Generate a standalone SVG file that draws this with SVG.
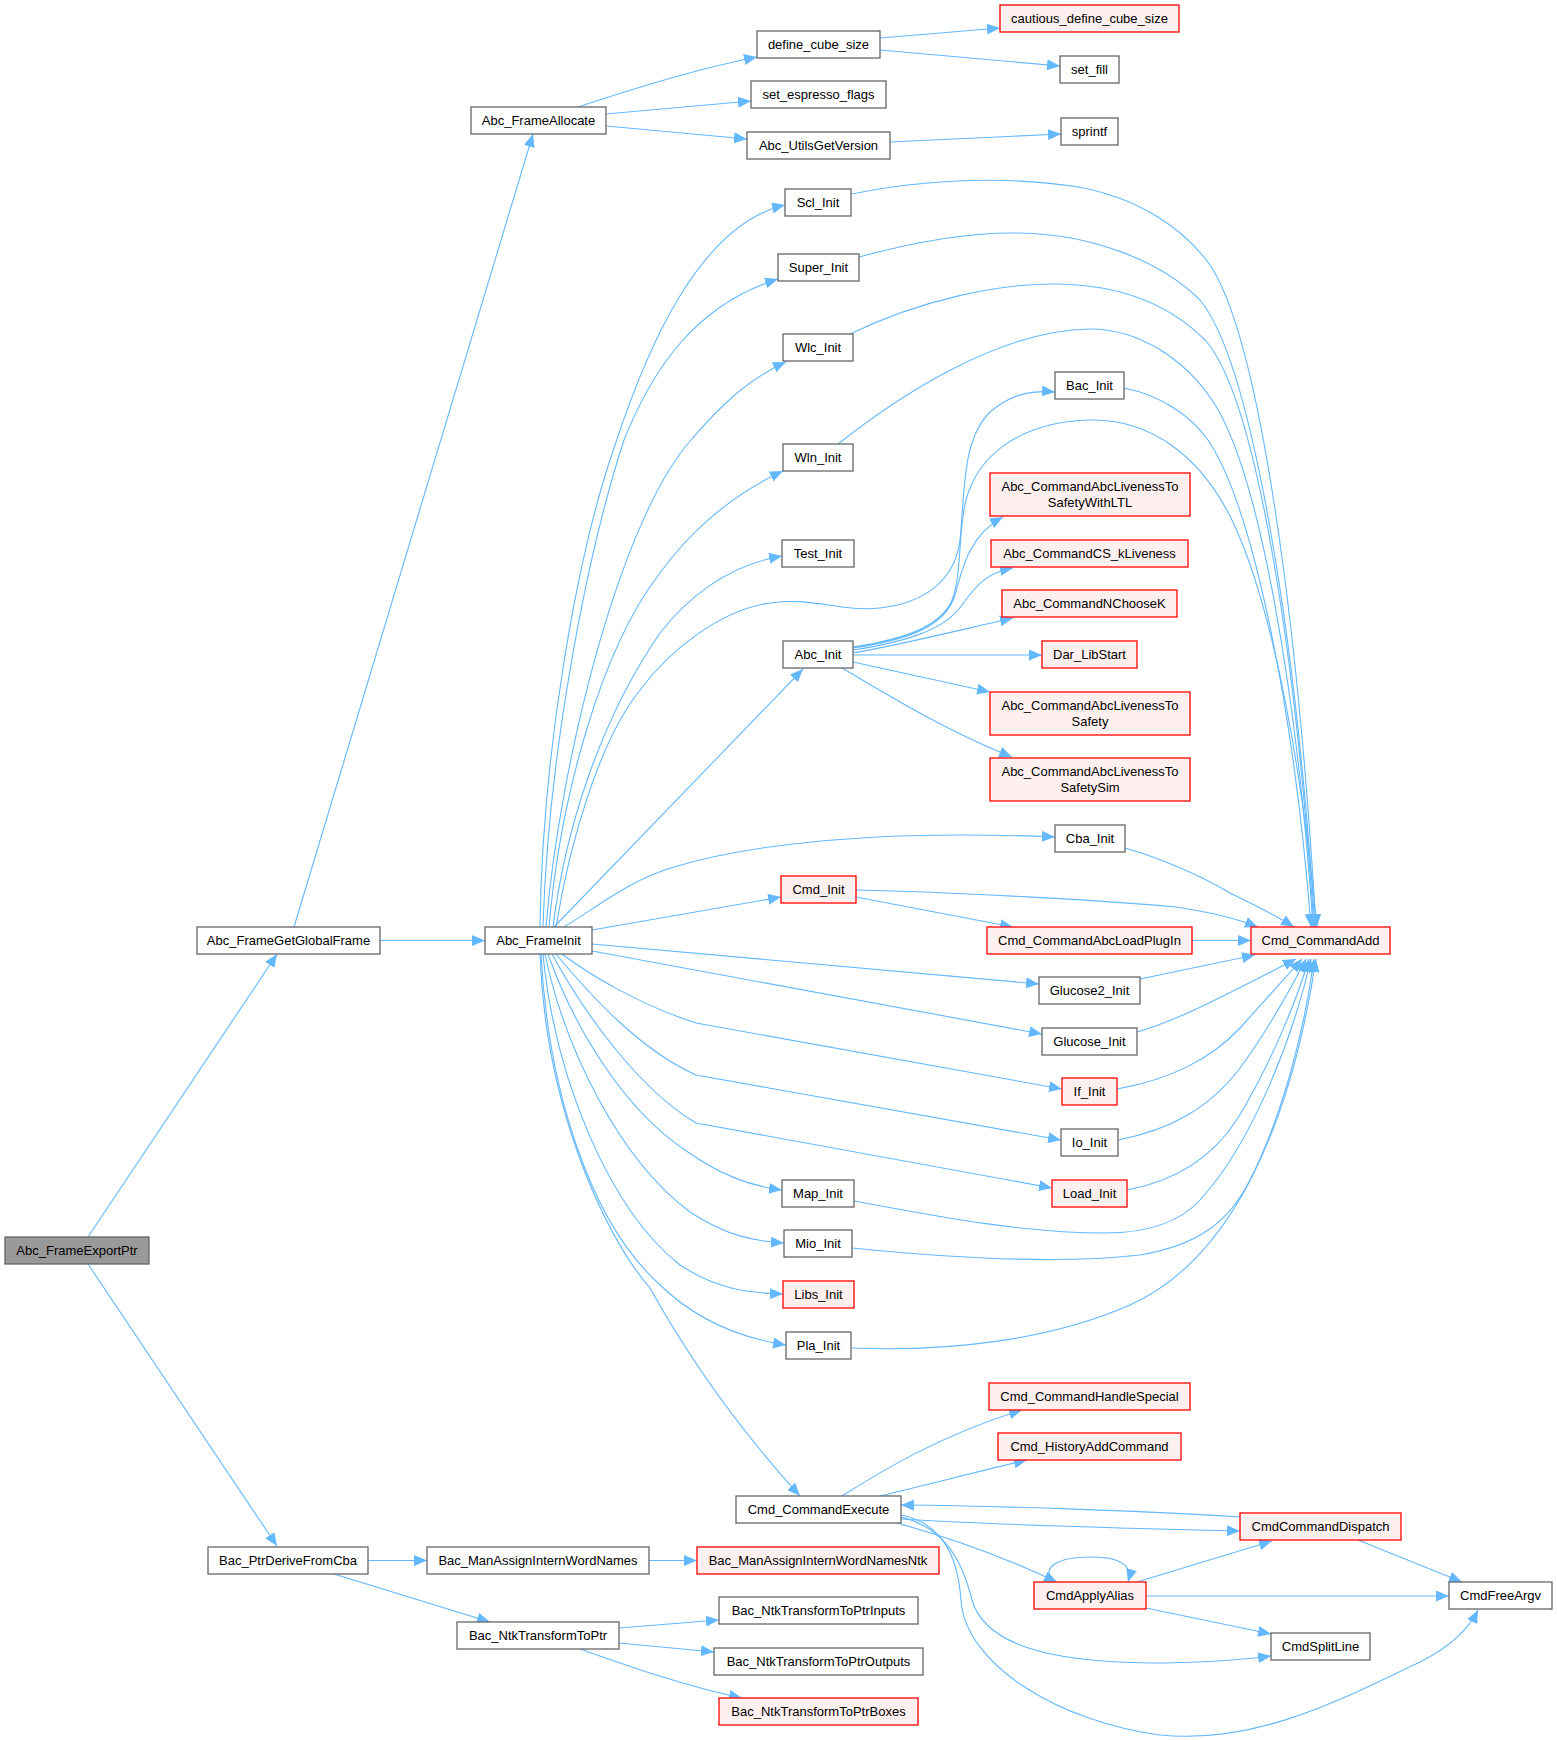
<svg xmlns="http://www.w3.org/2000/svg" width="1557" height="1740" viewBox="0 0 1557 1740">
<style>
text{font-family:"Liberation Sans",Arial,Helvetica,sans-serif;font-size:13px;text-anchor:middle;fill:#000}
.n rect{fill:#fff;stroke:#666;stroke-width:1.3}
.r rect{fill:#fff0f0;stroke:#ff0000;stroke-width:1.3}
.root rect{fill:#999;stroke:#666;stroke-width:1.3}
#edges path{fill:none;stroke:#63b8ff;stroke-width:1.1;marker-end:url(#a)}
</style>
<defs>
<marker id="a" markerWidth="13" markerHeight="11" refX="13" refY="5.5" orient="auto" markerUnits="userSpaceOnUse"><path d="M0,0 L13,5.5 L0,11 z" fill="#63b8ff"/></marker>
</defs>
<rect width="1557" height="1740" fill="#fff"/>
<g id="edges">
<path d="M88,1237 L277,954"/>
<path d="M88,1264 L277,1546"/>
<path d="M294,927 L533,134"/>
<path d="M380,940.5 L485,940.5"/>
<path d="M578,107 C620,93 690,70 757,57"/>
<path d="M606,114 L751,101"/>
<path d="M606,126 L747,139"/>
<path d="M880,38 L1000,28"/>
<path d="M880,50 L1060,66"/>
<path d="M890,142 L1061,134"/>
<path d="M540,927 C542,760 575,560 615,445 C648,345 700,225 785,205"/>
<path d="M543,927 C548,760 585,560 624,440 C652,370 695,305 778,279"/>
<path d="M546,927 C560,760 620,520 691,440 C715,412 745,380 786,362"/>
<path d="M549,927 C560,800 600,650 660,573 C680,545 720,500 783,471"/>
<path d="M553,927 C565,830 600,720 660,633 C690,595 730,565 782,556"/>
<path d="M556,927 C570,840 600,740 640,690 C670,650 720,610 770,603 C815,597 840,612 880,608 C925,603 955,580 960,540 C965,490 962,440 990,412 C1010,395 1030,390 1055,392"/>
<path d="M554,927 L803,669"/>
<path d="M564,927 C600,905 630,880 674,867 C730,850 800,840 900,836 C960,834 1010,835 1055,837"/>
<path d="M592,930 L781,897"/>
<path d="M592,944 L1039,984"/>
<path d="M592,951 L1042,1034"/>
<path d="M562,954 C590,975 640,1005 696,1023 L1062,1089"/>
<path d="M556,954 C590,995 640,1050 696,1075 L1061,1140"/>
<path d="M552,954 C585,1015 640,1090 696,1123 L1052,1188"/>
<path d="M548,954 C575,1030 625,1110 685,1150 C720,1175 750,1186 782,1190"/>
<path d="M545,954 C565,1050 620,1160 690,1212 C725,1235 752,1241 784,1243"/>
<path d="M543,954 C555,1080 610,1210 680,1265 C715,1288 745,1293 783,1294"/>
<path d="M541,954 C548,1090 590,1220 657,1282 C680,1305 720,1335 786,1345"/>
<path d="M540,954 C545,1100 600,1230 650,1288 C690,1360 740,1430 800,1496"/>
<path d="M852,194 C920,180 1000,175 1078,187 C1140,198 1185,230 1210,265 C1260,340 1298,620 1316,927"/>
<path d="M859,257 C910,243 970,232 1019,233 C1090,234 1160,260 1200,300 C1250,360 1295,620 1315,927"/>
<path d="M850,334 C920,300 1000,283 1058,284 C1120,285 1170,305 1205,340 C1255,395 1295,640 1314,927"/>
<path d="M838,444 C900,395 1000,330 1090,329 C1140,329 1185,360 1212,400 C1260,470 1298,700 1313,927"/>
<path d="M1124,388 C1160,395 1190,415 1208,440 C1255,510 1295,720 1311,927"/>
<path d="M853,647 C900,640 940,628 952,600 C962,575 958,530 966,500 C978,455 1020,422 1090,420 C1150,419 1200,455 1232,520 C1275,610 1303,780 1317,927"/>
<path d="M853,648 C905,640 945,628 955,595 C963,565 970,535 1003,517"/>
<path d="M853,650 C905,642 945,630 962,605 C978,582 990,572 1013,568"/>
<path d="M853,653 C900,645 960,630 1013,618"/>
<path d="M853,655 L1042,655"/>
<path d="M853,662 L990,692"/>
<path d="M842,668 C880,690 940,728 1012,757"/>
<path d="M1125,848 C1160,858 1200,875 1230,893 C1255,905 1275,915 1294,927"/>
<path d="M856,890 C950,892 1100,900 1176,907 C1210,912 1235,918 1258,927"/>
<path d="M856,897 L1013,927"/>
<path d="M1192,940.5 L1251,940.5"/>
<path d="M1140,979 L1255,955"/>
<path d="M1137,1032 C1180,1020 1235,990 1296,959"/>
<path d="M1117,1089 C1170,1080 1212,1058 1240,1028 C1265,1000 1285,978 1302,959"/>
<path d="M1118,1140 C1170,1130 1210,1108 1240,1068 C1268,1030 1290,990 1306,959"/>
<path d="M1127,1190 C1170,1182 1210,1162 1238,1118 C1270,1065 1295,1005 1309,959"/>
<path d="M854,1201 C930,1215 1020,1233 1105,1233 C1150,1233 1180,1222 1200,1200 C1255,1140 1295,1030 1311,959"/>
<path d="M852,1248 C950,1258 1060,1264 1140,1255 C1200,1245 1230,1220 1250,1180 C1280,1120 1303,1040 1314,959"/>
<path d="M851,1348 C950,1352 1050,1340 1130,1305 C1230,1260 1290,1130 1316,959"/>
<path d="M842,1496 C880,1472 940,1435 1022,1410"/>
<path d="M880,1496 C930,1484 980,1471 1027,1460"/>
<path d="M1240,1517 C1150,1511 1000,1506 901,1505"/>
<path d="M901,1519 C1000,1525 1150,1529 1240,1531"/>
<path d="M897,1523 C940,1535 1000,1555 1057,1582"/>
<path d="M901,1517 C945,1528 962,1560 972,1600 C985,1645 1050,1662 1150,1663 C1200,1663 1240,1660 1271,1656"/>
<path d="M901,1515 C945,1524 958,1560 961,1600 C965,1665 1060,1722 1160,1735 C1260,1745 1350,1695 1420,1662 C1448,1648 1468,1630 1478,1610"/>
<path d="M1137,1582 L1272,1541"/>
<path d="M1146,1596 L1449,1596"/>
<path d="M1146,1608 L1271,1634"/>
<path d="M1358,1540 L1462,1582"/>
<path d="M1053,1582 C1040,1566 1060,1557 1091,1557 C1120,1557 1133,1565 1128,1582"/>
<path d="M368,1560.5 L427,1560.5"/>
<path d="M334,1574 L490,1622"/>
<path d="M649,1560.5 L697,1560.5"/>
<path d="M619,1628 L719,1620"/>
<path d="M619,1643 L714,1652"/>
<path d="M580,1649 C620,1663 680,1685 742,1698"/>
</g>
<g id="n1" class="root"><rect x="5" y="1237" width="144" height="27"/><text x="77" y="1255">Abc_FrameExportPtr</text></g>
<g id="n2" class="n"><rect x="197" y="927" width="183" height="27"/><text x="288.5" y="945">Abc_FrameGetGlobalFrame</text></g>
<g id="n3" class="n"><rect x="208" y="1547" width="160" height="27"/><text x="288" y="1565">Bac_PtrDeriveFromCba</text></g>
<g id="n4" class="n"><rect x="471" y="107" width="135" height="27"/><text x="538.5" y="125">Abc_FrameAllocate</text></g>
<g id="n5" class="n"><rect x="485" y="927" width="107" height="27"/><text x="538.5" y="945">Abc_FrameInit</text></g>
<g id="n6" class="n"><rect x="427" y="1547" width="222" height="27"/><text x="538" y="1565">Bac_ManAssignInternWordNames</text></g>
<g id="n7" class="n"><rect x="457" y="1622" width="162" height="27"/><text x="538" y="1640">Bac_NtkTransformToPtr</text></g>
<g id="n8" class="n"><rect x="757" y="31" width="123" height="27"/><text x="818.5" y="49">define_cube_size</text></g>
<g id="n9" class="n"><rect x="751" y="81" width="135" height="27"/><text x="818.5" y="99">set_espresso_flags</text></g>
<g id="n10" class="n"><rect x="747" y="132" width="143" height="27"/><text x="818.5" y="150">Abc_UtilsGetVersion</text></g>
<g id="n11" class="n"><rect x="785" y="189" width="66" height="27"/><text x="818" y="207">Scl_Init</text></g>
<g id="n12" class="n"><rect x="778" y="254" width="81" height="27"/><text x="818.5" y="272">Super_Init</text></g>
<g id="n13" class="n"><rect x="783" y="334" width="70" height="27"/><text x="818" y="352">Wlc_Init</text></g>
<g id="n14" class="n"><rect x="783" y="444" width="70" height="27"/><text x="818" y="462">Wln_Init</text></g>
<g id="n15" class="n"><rect x="782" y="540" width="72" height="27"/><text x="818" y="558">Test_Init</text></g>
<g id="n16" class="n"><rect x="783" y="641" width="70" height="27"/><text x="818" y="659">Abc_Init</text></g>
<g id="n17" class="r"><rect x="781" y="876" width="75" height="27"/><text x="818.5" y="894">Cmd_Init</text></g>
<g id="n18" class="n"><rect x="782" y="1180" width="72" height="27"/><text x="818" y="1198">Map_Init</text></g>
<g id="n19" class="n"><rect x="784" y="1230" width="68" height="27"/><text x="818" y="1248">Mio_Init</text></g>
<g id="n20" class="r"><rect x="783" y="1281" width="71" height="27"/><text x="818.5" y="1299">Libs_Init</text></g>
<g id="n21" class="n"><rect x="786" y="1332" width="65" height="27"/><text x="818.5" y="1350">Pla_Init</text></g>
<g id="n22" class="n"><rect x="736" y="1496" width="165" height="27"/><text x="818.5" y="1514">Cmd_CommandExecute</text></g>
<g id="n23" class="r"><rect x="697" y="1547" width="242" height="27"/><text x="818" y="1565">Bac_ManAssignInternWordNamesNtk</text></g>
<g id="n24" class="n"><rect x="719" y="1597" width="199" height="27"/><text x="818.5" y="1615">Bac_NtkTransformToPtrInputs</text></g>
<g id="n25" class="n"><rect x="714" y="1648" width="209" height="27"/><text x="818.5" y="1666">Bac_NtkTransformToPtrOutputs</text></g>
<g id="n26" class="r"><rect x="719" y="1698" width="199" height="27"/><text x="818.5" y="1716">Bac_NtkTransformToPtrBoxes</text></g>
<g id="n27" class="r"><rect x="1000" y="5" width="179" height="27"/><text x="1089.5" y="23">cautious_define_cube_size</text></g>
<g id="n28" class="n"><rect x="1060" y="56" width="59" height="27"/><text x="1089.5" y="74">set_fill</text></g>
<g id="n29" class="n"><rect x="1061" y="118" width="57" height="27"/><text x="1089.5" y="136">sprintf</text></g>
<g id="n30" class="n"><rect x="1055" y="372" width="69" height="27"/><text x="1089.5" y="390">Bac_Init</text></g>
<g id="n31" class="r"><rect x="990" y="473" width="200" height="43"/><text x="1090" y="491">Abc_CommandAbcLivenessTo</text><text x="1090" y="507">SafetyWithLTL</text></g>
<g id="n32" class="r"><rect x="991" y="540" width="197" height="27"/><text x="1089.5" y="558">Abc_CommandCS_kLiveness</text></g>
<g id="n33" class="r"><rect x="1002" y="590" width="175" height="27"/><text x="1089.5" y="608">Abc_CommandNChooseK</text></g>
<g id="n34" class="r"><rect x="1042" y="641" width="95" height="27"/><text x="1089.5" y="659">Dar_LibStart</text></g>
<g id="n35" class="r"><rect x="990" y="692" width="200" height="43"/><text x="1090" y="710">Abc_CommandAbcLivenessTo</text><text x="1090" y="726">Safety</text></g>
<g id="n36" class="r"><rect x="990" y="758" width="200" height="43"/><text x="1090" y="776">Abc_CommandAbcLivenessTo</text><text x="1090" y="792">SafetySim</text></g>
<g id="n37" class="n"><rect x="1055" y="825" width="70" height="27"/><text x="1090" y="843">Cba_Init</text></g>
<g id="n38" class="r"><rect x="987" y="927" width="205" height="27"/><text x="1089.5" y="945">Cmd_CommandAbcLoadPlugIn</text></g>
<g id="n39" class="n"><rect x="1039" y="977" width="101" height="27"/><text x="1089.5" y="995">Glucose2_Init</text></g>
<g id="n40" class="n"><rect x="1042" y="1028" width="95" height="27"/><text x="1089.5" y="1046">Glucose_Init</text></g>
<g id="n41" class="r"><rect x="1062" y="1078" width="55" height="27"/><text x="1089.5" y="1096">If_Init</text></g>
<g id="n42" class="n"><rect x="1061" y="1129" width="57" height="27"/><text x="1089.5" y="1147">Io_Init</text></g>
<g id="n43" class="r"><rect x="1052" y="1180" width="75" height="27"/><text x="1089.5" y="1198">Load_Init</text></g>
<g id="n44" class="r"><rect x="989" y="1383" width="201" height="27"/><text x="1089.5" y="1401">Cmd_CommandHandleSpecial</text></g>
<g id="n45" class="r"><rect x="998" y="1433" width="183" height="27"/><text x="1089.5" y="1451">Cmd_HistoryAddCommand</text></g>
<g id="n46" class="r"><rect x="1034" y="1582" width="112" height="27"/><text x="1090" y="1600">CmdApplyAlias</text></g>
<g id="n47" class="r"><rect x="1251" y="927" width="139" height="27"/><text x="1320.5" y="945">Cmd_CommandAdd</text></g>
<g id="n48" class="r"><rect x="1240" y="1513" width="161" height="27"/><text x="1320.5" y="1531">CmdCommandDispatch</text></g>
<g id="n49" class="n"><rect x="1271" y="1633" width="99" height="27"/><text x="1320.5" y="1651">CmdSplitLine</text></g>
<g id="n50" class="n"><rect x="1449" y="1582" width="103" height="27"/><text x="1500.5" y="1600">CmdFreeArgv</text></g>
</svg>
